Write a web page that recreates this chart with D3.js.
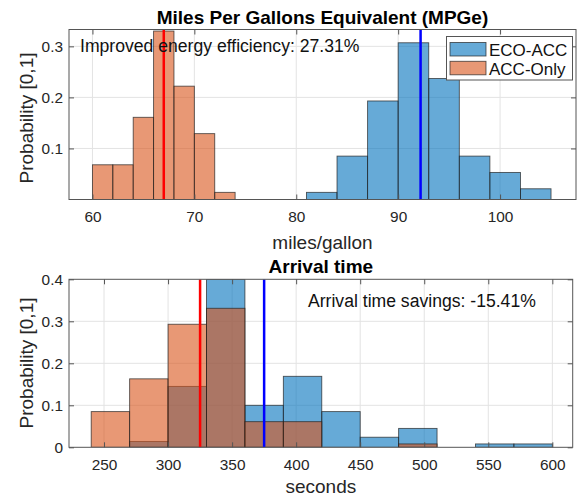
<!DOCTYPE html>
<html>
<head>
<meta charset="utf-8">
<script src="https://cdn.jsdelivr.net/npm/d3@7"></script>
<style>
  body { margin: 0; background: #fff; }
  svg { display: block; font-family: "Liberation Sans", Arial, Helvetica, sans-serif; }
  .tick text { font-size: 15.4px; fill: #262626; }
</style>
</head>
<body>
<div id="container"></div>
<script>
const width = 578;
const height = 496;

// MPGe histograms
const mpgEdgesAcc = [60, 62, 64, 66, 68, 70, 72, 74];
const mpgAcc = [0.068, 0.068, 0.161, 0.330, 0.222, 0.129, 0.014];
const mpgEdgesEco = [81, 84, 87, 90, 93, 96, 99, 102, 105];
const mpgEco = [0.014, 0.085, 0.193, 0.307, 0.237, 0.085, 0.053, 0.021];
const mpgMeanAcc = 67.0;
const mpgMeanEco = 92.2;
const mpgTicks = [60, 70, 80, 90, 100];
const mpgYTicks = [0.1, 0.2, 0.3];

// arrival time histograms
const timeEdges = [240, 270, 300, 330, 360, 390, 420, 450, 480, 510, 540, 570, 600];
const timeEco = [0, 0.014, 0.145, 0.40, 0.100, 0.169, 0.085, 0.024, 0.045, 0, 0.008, 0.008];
const timeAcc = [0.085, 0.163, 0.293, 0.331, 0.061, 0.061, 0, 0, 0.008, 0, 0, 0];
const timeMeanAcc = 325;
const timeMeanEco = 375;
const timeTicks = [250, 300, 350, 400, 450, 500, 550, 600];
const timeYTicks = [0, 0.1, 0.2, 0.3, 0.4];

const blue = "rgb(0,114,189)";
const orange = "rgb(217,83,25)";

const svg = d3.select("div#container")
    .append("svg")
    .attr("width", width)
    .attr("height", height);

function panel(opt) {
    const x = d3.scaleLinear().domain(opt.xDomain).range([opt.left, opt.right]);
    const y = d3.scaleLinear().domain(opt.yDomain).range([opt.bottom, opt.top]);
    const g = svg.append("g");

    const clipId = "clip-" + opt.id;
    svg.append("clipPath").attr("id", clipId)
        .append("rect")
        .attr("x", opt.left).attr("y", opt.top)
        .attr("width", opt.right - opt.left).attr("height", opt.bottom - opt.top);

    // grid
    g.selectAll(".vgrid").data(opt.xTicks).enter().append("line")
        .attr("x1", d => x(d)).attr("x2", d => x(d))
        .attr("y1", opt.top).attr("y2", opt.bottom)
        .attr("stroke", "#e3e3e3").attr("stroke-width", 1);
    g.selectAll(".hgrid").data(opt.yTicks.filter(d => d > 0 && d < opt.yDomain[1])).enter().append("line")
        .attr("x1", opt.left).attr("x2", opt.right)
        .attr("y1", d => y(d)).attr("y2", d => y(d))
        .attr("stroke", "#e3e3e3").attr("stroke-width", 1);

    const bars = g.append("g").attr("clip-path", "url(#" + clipId + ")");
    opt.series.forEach(function(s) {
        const bins = s.values.map((v, i) => ({x0: s.edges[i], x1: s.edges[i + 1], v: v}))
            .filter(b => b.v > 0);
        bars.append("g").selectAll("rect")
            .data(bins)
            .enter()
            .append("rect")
            .attr("x", d => x(d.x0))
            .attr("width", d => x(d.x1) - x(d.x0))
            .attr("y", d => y(d.v))
            .attr("height", d => y(0) - y(d.v))
            .attr("fill", s.color)
            .attr("fill-opacity", 0.6)
            .attr("stroke", "#222")
            .attr("stroke-opacity", 0.75)
            .attr("stroke-width", 0.9);
    });

    opt.means.forEach(function(m) {
        bars.append("line")
            .attr("x1", x(m.value)).attr("x2", x(m.value))
            .attr("y1", opt.top).attr("y2", opt.bottom)
            .attr("stroke", m.color).attr("stroke-width", 2.5);
    });

    // axes with inward ticks
    const xaxis = d3.axisBottom(x).tickValues(opt.xTicks).tickSize(-5).tickPadding(12).tickFormat(d3.format("d"));
    const yaxis = d3.axisLeft(y).tickValues(opt.yTicks).tickSize(-5).tickPadding(6)
        .tickFormat(d => d === 0 ? "0" : d3.format(".1f")(d));
    g.append("g").attr("transform", "translate(0," + opt.bottom + ")").call(xaxis)
        .call(a => a.select(".domain").remove())
        .call(a => a.selectAll("line").attr("stroke", "#555"));
    g.append("g").attr("transform", "translate(" + opt.left + ",0)").call(yaxis)
        .call(a => a.select(".domain").remove())
        .call(a => a.selectAll("line").attr("stroke", "#555"));
    g.append("g").attr("transform", "translate(0," + opt.top + ")")
        .call(d3.axisTop(x).tickValues(opt.xTicks).tickSize(-5).tickFormat(""))
        .call(a => a.select(".domain").remove())
        .call(a => a.selectAll("line").attr("stroke", "#555"));
    g.append("g").attr("transform", "translate(" + opt.right + ",0)")
        .call(d3.axisRight(y).tickValues(opt.yTicks).tickSize(-5).tickFormat(""))
        .call(a => a.select(".domain").remove())
        .call(a => a.selectAll("line").attr("stroke", "#555"));

    g.append("rect")
        .attr("x", opt.left).attr("y", opt.top)
        .attr("width", opt.right - opt.left).attr("height", opt.bottom - opt.top)
        .attr("fill", "none").attr("stroke", "#555").attr("stroke-width", 1);

    g.append("text")
        .attr("x", (opt.left + opt.right) / 2).attr("y", opt.top - 6)
        .attr("text-anchor", "middle")
        .style("font-size", "19px").style("font-weight", "bold")
        .text(opt.title);

    g.append("text")
        .attr("x", (opt.left + opt.right) / 2).attr("y", opt.bottom + opt.xLabelGap)
        .attr("text-anchor", "middle")
        .style("font-size", "19px").attr("fill", "#262626")
        .text(opt.xLabel);

    g.append("text")
        .attr("transform", "translate(33," + opt.yLabelMid + ") rotate(-90)")
        .attr("text-anchor", "middle")
        .style("font-size", "19px").attr("fill", "#262626")
        .text("Probability [0,1]");

    g.append("text")
        .attr("x", opt.note.x).attr("y", opt.note.y)
        .style("font-size", "17.6px").attr("fill", "#111")
        .text(opt.note.text);

    return {x: x, y: y, g: g};
}

const mpgPanel = panel({
    id: "mpg",
    left: 69, right: 576, top: 29.5, bottom: 199.5,
    xDomain: [57.7, 107.45], yDomain: [0, 0.333],
    xTicks: mpgTicks, yTicks: mpgYTicks,
    series: [
        {edges: mpgEdgesEco, values: mpgEco, color: blue},
        {edges: mpgEdgesAcc, values: mpgAcc, color: orange}
    ],
    means: [{value: mpgMeanAcc, color: "#ff0000"}, {value: mpgMeanEco, color: "#0000ff"}],
    title: "Miles Per Gallons Equivalent (MPGe)",
    xLabel: "miles/gallon", xLabelGap: 49, yLabelMid: 118,
    note: {x: 80, y: 52, text: "Improved energy efficiency: 27.31%"}
});

// legend
const legend = mpgPanel.g.append("g");
legend.append("rect")
    .attr("x", 446.5).attr("y", 36.5).attr("width", 126).attr("height", 43.5)
    .attr("fill", "#fff").attr("stroke", "#555").attr("stroke-width", 1);
const legendItems = [{name: "ECO-ACC", color: blue}, {name: "ACC-Only", color: orange}];
legendItems.forEach(function(d, i) {
    legend.append("rect")
        .attr("x", 450).attr("y", 42.5 + i * 18.8).attr("width", 36).attr("height", 13.5)
        .attr("fill", d.color).attr("fill-opacity", 0.6)
        .attr("stroke", "#222").attr("stroke-opacity", 0.75).attr("stroke-width", 0.9);
    legend.append("text")
        .attr("x", 489).attr("y", 56 + i * 19)
        .style("font-size", "17px").attr("fill", "#111")
        .text(d.name);
});

panel({
    id: "time",
    left: 69, right: 572.7, top: 279.3, bottom: 447.3,
    xDomain: [222.66, 615.9], yDomain: [0, 0.4],
    xTicks: timeTicks, yTicks: timeYTicks,
    series: [
        {edges: timeEdges, values: timeEco, color: blue},
        {edges: timeEdges, values: timeAcc, color: orange}
    ],
    means: [{value: timeMeanAcc, color: "#ff0000"}, {value: timeMeanEco, color: "#0000ff"}],
    title: "Arrival time",
    xLabel: "seconds", xLabelGap: 46, yLabelMid: 363,
    note: {x: 308, y: 307, text: "Arrival time savings: -15.41%"}
});
</script>
</body>
</html>
